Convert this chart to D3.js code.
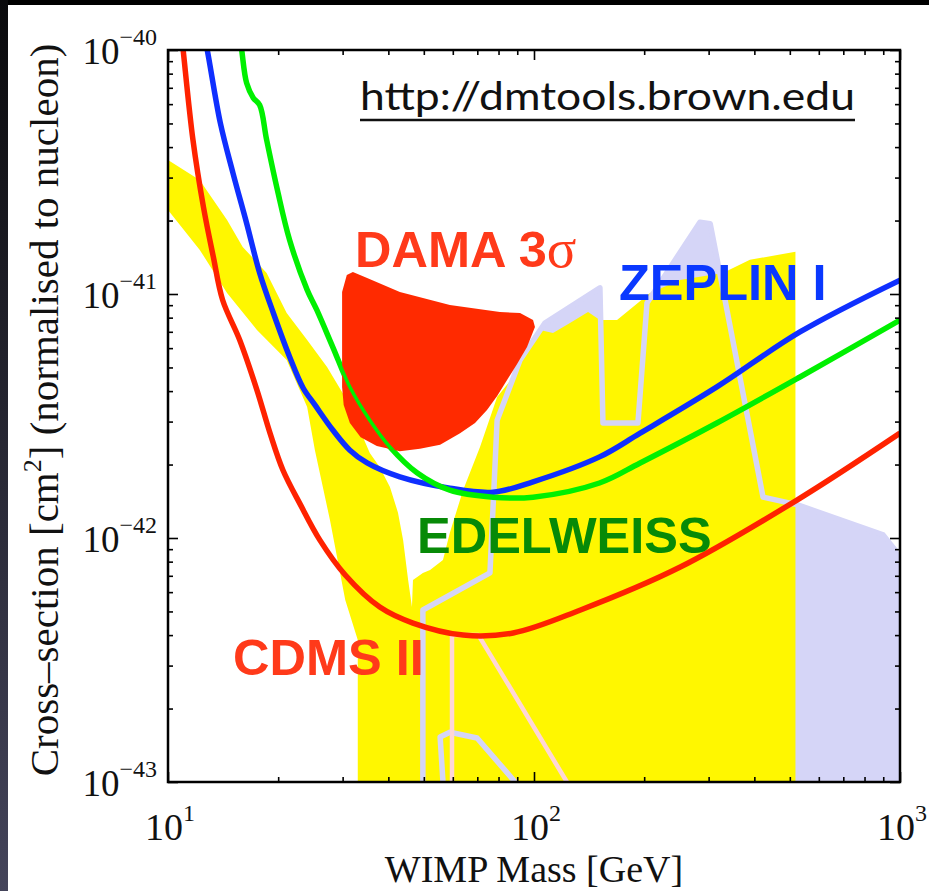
<!DOCTYPE html>
<html>
<head>
<meta charset="utf-8">
<script src="https://cdn.jsdelivr.net/npm/d3@7"></script>
<style>
  html, body { margin: 0; padding: 0; background: #000; overflow: hidden; }
</style>
</head>
<body>
<div id="wrapper"></div>
<script>
// mass in GeV, cross-section in units of 1e-42 cm^2
const SIGMA_UNIT = 1e-42;

const xTicks = [10, 100, 1000];
const yTicks = [1e-40, 1e-41, 1e-42, 1e-43];

const cdmsII = [[10.85,121],[11.0,100],[11.7,42.8],[12.5,22.7],[13.3,14.2],[14.1,9.45],[15.7,6.48],[17.5,4.04],[19.0,2.69],[20.6,1.90],[23.0,1.37],[26.0,0.98],[30.5,0.705],[37.9,0.521],[46.7,0.448],[64.0,0.400],[87.7,0.408],[134,0.507],[251,0.760],[523,1.43],[1000,2.69]];
const zeplinI = [[12.46,121],[12.8,100],[13.9,50.2],[15.05,31.3],[16.4,19.5],[17.8,12.2],[19.4,8.36],[21.5,5.52],[23.4,4.12],[25.2,3.51],[28.2,2.77],[31.4,2.29],[35.0,2.03],[43.0,1.78],[58.9,1.60],[77.3,1.54],[99.4,1.70],[151,2.15],[195,2.69],[316,4.16],[533,6.99],[1000,11.4]];
const edelweiss = [[15.63,121],[15.9,100],[16.4,73.2],[17.1,63.6],[17.8,59.5],[18.6,42.8],[19.9,26.7],[21.5,16.6],[24.0,10.4],[25.5,8.60],[28.2,6.06],[31.4,4.16],[35.6,3.04],[40.4,2.36],[47.9,1.85],[58.9,1.57],[77.3,1.47],[99.4,1.47],[151,1.68],[195,2.03],[316,2.96],[533,4.57],[1000,7.82]];
const damaRegion = [[32.0,12.3],[35.0,11.63],[43.0,10.2],[58.9,9.02],[80.7,8.44],[91.6,8.36],[99.4,7.82],[100.6,7.33],[95.7,6.06],[89.9,5.17],[84.4,4.44],[79.3,3.82],[74.4,3.35],[69.0,2.96],[62.8,2.69],[55.4,2.41],[48.8,2.32],[43.0,2.27],[37.2,2.38],[33.6,2.59],[31.4,2.96],[30.2,3.51],[29.9,4.16],[29.9,6.48],[29.9,10.2],[30.8,11.96]];
const yellowRegion = [[10,35.4],[12.2,29.3],[14.5,20.1],[16.0,15.6],[18.6,12.2],[21.1,8.36],[24.0,6.48],[27.2,5.02],[30.8,3.68],[35.6,2.23],[37.9,1.95],[40.4,1.62],[42.5,1.27],[43.9,0.98],[45.3,0.673],[46.4,0.521],[46.7,0.673],[49.7,0.719],[52.0,0.740],[56.4,0.812],[58.9,1.05],[64.0,1.57],[71.2,2.36],[79.3,3.78],[87.7,4.57],[97.5,6.06],[103.8,7.12],[112.7,6.92],[125.4,7.60],[140.5,8.44],[151.4,7.82],[168.6,7.82],[207.5,10.1],[250.6,11.4],[328,12.2],[389,13.8],[518,14.9],[518,0.1],[33.0,0.1],[33.0,0.382],[30.5,0.557],[27.7,1.185],[25.2,2.29],[24.0,3.44],[21.1,5.36],[17.5,7.12],[14.5,10.1],[12.2,15.2],[10,22.1]];
const lavenderEdge = [[49.7,0.1],[49.7,0.507],[75.8,0.719],[79.3,3.04],[91.6,5.36],[107.1,7.60],[151.4,10.6],[154.3,2.96],[192.3,2.96],[203.6,9.19],[284,19.7],[303,19.4],[332.6,9.45],[422.5,1.47],[500.5,1.39],[523,1.37],[899,1.03],[969,0.893],[1000,0.784],[1000,0.1]];
const lavenderLine = [[56.4,0.1],[55.4,0.153],[58.9,0.160],[69.9,0.1515],[88.8,0.1]];
const pinkLine = [[59.7,0.1],[59.7,0.40],[70.5,0.40],[123,0.1]];

const width = 929, height = 891;
const plot = { left: 168, right: 900, top: 50, bottom: 782 };

const svg = d3.select("#wrapper").append("svg")
    .attr("width", width)
    .attr("height", height);

// slide frame
const defs = svg.append("defs");
const grad = defs.append("linearGradient")
    .attr("id", "side").attr("x1", 0).attr("y1", 0).attr("x2", 0).attr("y2", 1);
grad.append("stop").attr("offset", "0%").attr("stop-color", "#0a0a0c");
grad.append("stop").attr("offset", "100%").attr("stop-color", "#44445a");
svg.append("rect").attr("width", width).attr("height", height).attr("fill", "#000");
svg.append("rect").attr("x", 0).attr("y", 0).attr("width", 8).attr("height", height).attr("fill", "url(#side)");
svg.append("rect").attr("x", 8).attr("y", 5).attr("width", width - 8).attr("height", height - 5).attr("fill", "#fff");

defs.append("clipPath").attr("id", "plot-clip")
  .append("rect")
    .attr("x", plot.left).attr("y", plot.top)
    .attr("width", plot.right - plot.left).attr("height", plot.bottom - plot.top);

// scales
const xScale = d3.scaleLog().domain([10, 1000]).range([plot.left, plot.right]);
const yScale = d3.scaleLog().domain([1e-43, 1e-40]).range([plot.bottom, plot.top]);
const px = d => xScale(d[0]);
const py = d => yScale(d[1] * SIGMA_UNIT);

const bounds = svg.append("g").attr("clip-path", "url(#plot-clip)");

const area = d3.line().x(px).y(py);
const curve = d3.line().x(px).y(py).curve(d3.curveCatmullRom);

// lavender region, yellow region
bounds.append("path").attr("d", area(lavenderEdge) + "Z").attr("fill", "#d5d5f7");
bounds.append("path").attr("d", area(yellowRegion) + "Z").attr("fill", "#fff700");

bounds.append("path").attr("d", area(lavenderEdge))
    .attr("fill", "none").attr("stroke", "#d5d5f7").attr("stroke-width", 5.5).attr("stroke-linejoin", "round");
bounds.append("path").attr("d", area(lavenderLine))
    .attr("fill", "none").attr("stroke", "#d5d5f7").attr("stroke-width", 5.5).attr("stroke-linejoin", "round");
bounds.append("path").attr("d", area(pinkLine))
    .attr("fill", "none").attr("stroke", "#ffd6d6").attr("stroke-width", 4.5).attr("stroke-linejoin", "round");

// limit curves
const curves = [
  { data: cdmsII, color: "#ff2200" },
  { data: zeplinI, color: "#0f2fff" },
  { data: edelweiss, color: "#00f000" },
];
curves.forEach(c => {
  bounds.append("path").attr("d", curve(c.data))
      .attr("fill", "none").attr("stroke", c.color).attr("stroke-width", 5.5);
});

// DAMA region with the green curve showing through as a thin slit
const damaPath = area(damaRegion) + "Z";
bounds.append("path").attr("d", damaPath).attr("fill", "#ff2a00");
defs.append("clipPath").attr("id", "dama-clip").append("path").attr("d", damaPath);
bounds.append("g").attr("clip-path", "url(#dama-clip)")
  .append("path").attr("d", curve(edelweiss))
    .attr("fill", "none").attr("stroke", "#00f000").attr("stroke-width", 3.5);

// labels
const label = (txt, x, y, color) => svg.append("text")
    .attr("x", x).attr("y", y)
    .attr("font-family", "Liberation Sans, Arial, sans-serif")
    .attr("font-weight", "bold").attr("font-size", 50.5)
    .attr("fill", color).text(txt);

const dama = label("DAMA 3", 355, 267, "#ff3a1a");
dama.append("tspan").attr("font-family", "Liberation Serif, serif").attr("font-weight", "normal")
    .attr("font-size", 55).text("σ");
label("ZEPLIN I", 619, 300, "#0a38ff");
label("EDELWEISS", 417, 553, "#078a07");
label("CDMS II", 233, 675, "#ff3a1a");

svg.append("text")
    .attr("x", 360).attr("y", 110)
    .attr("font-family", "Lato, sans-serif").attr("font-size", 38)
    .attr("textLength", 495).attr("lengthAdjust", "spacingAndGlyphs")
    .attr("fill", "#111").text("http://dmtools.brown.edu");
svg.append("line")
    .attr("x1", 360).attr("x2", 855).attr("y1", 120).attr("y2", 120)
    .attr("stroke", "#111").attr("stroke-width", 2.5);

// axes: inward ticks on all four sides
const minorX = xScale.ticks().filter(v => !xTicks.includes(v));
const minorY = yScale.ticks().filter(v => !yTicks.some(t => Math.abs(Math.log10(v) - Math.log10(t)) < 1e-6));
const tickStyle = g => {
  g.select(".domain").remove();
  g.selectAll("line").attr("stroke", "#000").attr("stroke-width", 1.6);
};
const axisSet = [
  [d3.axisBottom(xScale), `translate(0,${plot.bottom})`, minorX, xTicks],
  [d3.axisTop(xScale), `translate(0,${plot.top})`, minorX, xTicks],
  [d3.axisLeft(yScale), `translate(${plot.left},0)`, minorY, yTicks],
  [d3.axisRight(yScale), `translate(${plot.right},0)`, minorY, yTicks],
];
axisSet.forEach(([gen, tr, minor, major]) => {
  svg.append("g").attr("transform", tr)
      .call(gen.tickValues(minor).tickSize(-5).tickFormat(""))
      .call(tickStyle);
  svg.append("g").attr("transform", tr)
      .call(gen.tickValues(major).tickSize(-10).tickFormat(""))
      .call(tickStyle);
});

svg.append("rect")
    .attr("x", plot.left).attr("y", plot.top)
    .attr("width", plot.right - plot.left).attr("height", plot.bottom - plot.top)
    .attr("fill", "none").attr("stroke", "#000").attr("stroke-width", 2.5);

// tick labels 10^n
const serif = "Liberation Serif, Times New Roman, serif";
const expLabel = (sel, v) => {
  const e = Math.round(Math.log10(v));
  sel.append("tspan").text("10");
  sel.append("tspan").attr("font-size", 24).attr("dy", -19)
      .text(e < 0 ? "\u2212" + Math.abs(e) : e);
};
xTicks.forEach(v => {
  const t = svg.append("text")
      .attr("x", xScale(v) + 2).attr("y", 840)
      .attr("text-anchor", "middle")
      .attr("font-family", serif).attr("font-size", 38).attr("fill", "#111");
  expLabel(t, v);
});
yTicks.forEach(v => {
  const t = svg.append("text")
      .attr("x", 157).attr("y", yScale(v) + 14)
      .attr("text-anchor", "end")
      .attr("font-family", serif).attr("font-size", 37).attr("fill", "#111");
  expLabel(t, v);
});

// axis titles
svg.append("text")
    .attr("x", 534).attr("y", 882)
    .attr("text-anchor", "middle")
    .attr("font-family", serif).attr("font-size", 38).attr("fill", "#111")
    .text("WIMP Mass [GeV]");

const yTitle = svg.append("text")
    .attr("transform", "translate(58,410) rotate(-90)")
    .attr("text-anchor", "middle")
    .attr("font-family", serif).attr("font-size", 41).attr("fill", "#111");
yTitle.append("tspan").text("Cross\u2013section [cm");
yTitle.append("tspan").attr("font-size", 26).attr("dy", -17).text("2");
yTitle.append("tspan").attr("dy", 17).text("] (normalised to nucleon)");
</script>
</body>
</html>
